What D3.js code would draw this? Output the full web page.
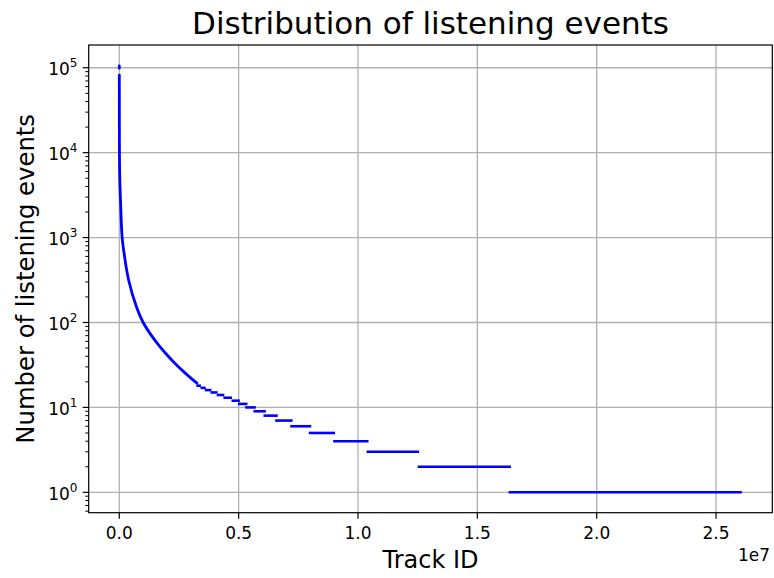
<!DOCTYPE html>
<html>
<head>
<meta charset="utf-8">
<script src="https://cdn.jsdelivr.net/npm/d3@7"></script>
<style>
  html, body { margin: 0; padding: 0; background: #fff; }
  svg { display: block; }
  text { font-family: "DejaVu Sans", sans-serif; fill: #000; }
</style>
</head>
<body>
<svg id="chart" width="774" height="578"></svg>
<script>
// ---- data (x in track-ID units, y = number of listening events) ----
const headX = [0, 0];
const headY = [105000, 99000];

const curveX = [0, 3000, 6000, 20000, 50000, 120000, 220000, 390000, 740000, 1000000, 1350000, 1700000, 2050000, 2400000, 2750000, 3050000, 3250000];
const curveY = [82000, 30000, 10000, 5000, 2800, 1000, 600, 317, 147, 100, 70, 52, 40, 31.5, 25.5, 21.5, 19.3];

const stepLevels = [1, 2, 3, 4, 5, 6, 7, 8, 9, 10, 11, 12, 13, 14, 15, 16, 17, 18];
const stepStart  = [16310000, 12500000, 10360000, 8960000, 7940000, 7160000, 6530000, 6040000, 5620000, 5270000, 4970000, 4700000, 4360000, 4080000, 3820000, 3580000, 3400000, 3230000];
const stepEnd    = [26080000, 16410000, 12560000, 10440000, 9040000, 8040000, 7260000, 6640000, 6140000, 5720000, 5370000, 5050000, 4720000, 4400000, 4120000, 3860000, 3620000, 3420000];

const xTicks = [0, 5000000, 10000000, 15000000, 20000000, 25000000];
const xTickLabels = ["0.0", "0.5", "1.0", "1.5", "2.0", "2.5"];
const yTicks = [1, 10, 100, 1000, 10000, 100000];
const yTickExp = ["0", "1", "2", "3", "4", "5"];

// ---- layout ----
const L = 88.7, R = 772.3, T = 45, B = 512.7;
const svg = d3.select("#chart");

const x = d3.scaleLinear().domain([-1282000, 27357000]).range([L, R]);
const y = d3.scaleLog().domain([Math.pow(10, -0.240), Math.pow(10, 5.268)]).range([B, T]);

// grid
const grid = svg.append("g");
xTicks.forEach(v => {
  grid.append("line").attr("x1", x(v)).attr("x2", x(v)).attr("y1", T).attr("y2", B)
    .attr("stroke", "#b0b0b0").attr("stroke-width", 1.3);
});
yTicks.forEach(v => {
  grid.append("line").attr("x1", L).attr("x2", R).attr("y1", y(v)).attr("y2", y(v))
    .attr("stroke", "#b0b0b0").attr("stroke-width", 1.3);
});

// data
const plot = svg.append("g");
plot.append("path")
  .datum(headX.map((d, i) => [d, headY[i]]))
  .attr("d", d3.line().x(d => x(d[0])).y(d => y(d[1])))
  .attr("fill", "none").attr("stroke", "#0000ff").attr("stroke-width", 2.8).attr("stroke-linecap", "round");

plot.append("path")
  .datum(curveX.map((d, i) => [d, curveY[i]]))
  .attr("d", d3.line().x(d => x(d[0])).y(d => y(d[1])).curve(d3.curveCatmullRom.alpha(0.5)))
  .attr("fill", "none").attr("stroke", "#0000ff").attr("stroke-width", 2.8).attr("stroke-linecap", "round");

plot.selectAll("line.step")
  .data(stepLevels.map((lv, i) => ({ lv, s: stepStart[i], e: stepEnd[i] })))
  .enter().append("line")
  .attr("class", "step")
  .attr("x1", d => x(d.s)).attr("x2", d => x(d.e))
  .attr("y1", d => y(d.lv)).attr("y2", d => y(d.lv))
  .attr("stroke", "#0000ff").attr("stroke-width", 2.6);

// spines
svg.append("rect").attr("x", L).attr("y", T).attr("width", R - L).attr("height", B - T)
  .attr("fill", "none").attr("stroke", "#000").attr("stroke-width", 1.2);

// x axis ticks
const xa = svg.append("g");
xTicks.forEach((v, i) => {
  xa.append("line").attr("x1", x(v)).attr("x2", x(v)).attr("y1", B).attr("y2", B + 6)
    .attr("stroke", "#000").attr("stroke-width", 1.2);
  xa.append("text").attr("x", x(v)).attr("y", B + 26.5).attr("text-anchor", "middle")
    .attr("font-size", 17).text(xTickLabels[i]);
});
svg.append("text").attr("x", 770).attr("y", 561).attr("text-anchor", "end")
  .attr("font-size", 17).text("1e7");

// y axis ticks
const ya = svg.append("g");
yTicks.forEach((v, i) => {
  ya.append("line").attr("x1", L - 6).attr("x2", L).attr("y1", y(v)).attr("y2", y(v))
    .attr("stroke", "#000").attr("stroke-width", 1.2);
  const t = ya.append("text").attr("x", 77.5).attr("y", y(v) + 7.5).attr("text-anchor", "end")
    .attr("font-size", 17);
  t.append("tspan").text("10");
  t.append("tspan").attr("font-size", 12).attr("dy", -8).text(yTickExp[i]);
});
const minor = [];
for (let k = -1; k <= 5; k++) for (let m = 2; m <= 9; m++) {
  const v = m * Math.pow(10, k);
  if (v >= y.domain()[0] && v <= y.domain()[1]) minor.push(v);
}
minor.forEach(v => {
  ya.append("line").attr("x1", L - 3.4).attr("x2", L).attr("y1", y(v)).attr("y2", y(v))
    .attr("stroke", "#000").attr("stroke-width", 1);
});

// labels
svg.append("text").attr("x", (L + R) / 2).attr("y", 34).attr("text-anchor", "middle")
  .attr("font-size", 31).text("Distribution of listening events");
svg.append("text").attr("x", (L + R) / 2).attr("y", 568).attr("text-anchor", "middle")
  .attr("font-size", 24).text("Track ID");
svg.append("text").attr("transform", "translate(33.5," + ((T + B) / 2) + ") rotate(-90)")
  .attr("text-anchor", "middle").attr("font-size", 24.3).text("Number of listening events");
</script>
</body>
</html>
